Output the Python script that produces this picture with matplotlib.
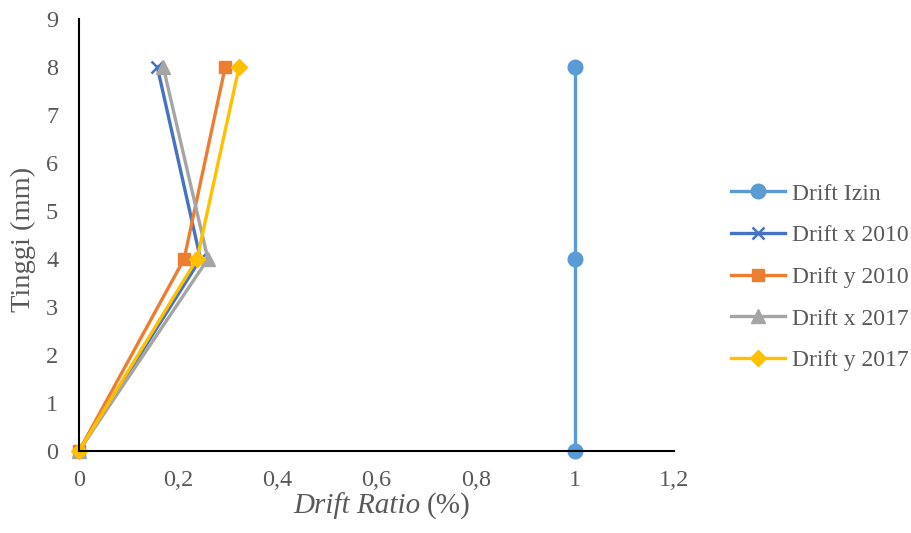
import matplotlib.pyplot as plt
from matplotlib.ticker import FuncFormatter

plt.rcParams['font.family'] = ['Liberation Serif', 'DejaVu Serif']

# storey heights and drift ratios (%)
tinggi = [0, 4, 8]
drift_izin = [1, 1, 1]
drift_x_2010 = [0, 0.245, 0.158]
drift_y_2010 = [0, 0.212, 0.295]
drift_x_2017 = [0, 0.26, 0.17]
drift_y_2017 = [0, 0.238, 0.323]

x_ticks = [0, 0.2, 0.4, 0.6, 0.8, 1.0, 1.2]
y_ticks = list(range(10))

grey = '#595959'

fig = plt.figure(figsize=(9.12, 5.33), dpi=100)
ax = fig.add_axes([0.0866, 0.1538, 0.6524, 0.8106])

lw = 2.4
ax.plot(drift_izin, tinggi, color='#5b9bd5', lw=lw, marker='o', ms=10.5, label='Drift Izin')
ax.plot(drift_x_2010, tinggi, color='#4472c4', lw=lw, marker='x', ms=9, mew=1.8, label='Drift x 2010')
ax.plot(drift_y_2010, tinggi, color='#ed7d31', lw=lw, marker='s', ms=9, label='Drift y 2010')
ax.plot(drift_x_2017, tinggi, color='#a5a5a5', lw=lw, marker='^', ms=10, label='Drift x 2017')
ax.plot(drift_y_2017, tinggi, color='#ffc000', lw=lw, marker='D', ms=8, label='Drift y 2017')
for line in ax.lines:
    line.set_clip_on(False)

ax.set_xlim(0, 1.2)
ax.set_ylim(0, 9)
ax.set_xticks(x_ticks)
ax.set_yticks(y_ticks)
ax.xaxis.set_major_formatter(FuncFormatter(lambda v, p: ('%g' % v).replace('.', ',')))
ax.tick_params(length=0, labelsize=17.5, labelcolor=grey)
ax.tick_params(axis='x', pad=14)
ax.tick_params(axis='y', pad=15)

for s in ['top', 'right']:
    ax.spines[s].set_visible(False)
for s in ['left', 'bottom']:
    ax.spines[s].set_linewidth(1.5)

# axis titles: italic "Drift Ratio" followed by upright "(%)"
t1 = fig.text(0.4616, 0.0375, 'Drift Ratio', fontsize=21, style='italic',
              color=grey, ha='right', va='baseline')
ax.annotate('(%)', xy=(1, 0), xycoords=t1, xytext=(4, 0), textcoords='offset points',
            fontsize=21, color=grey, ha='left', va='bottom')
fig.text(0.026, 0.55, 'Tinggi (mm)', fontsize=20.5, color=grey, rotation=90,
         ha='center', va='center')

fig.legend(loc='center left', bbox_to_anchor=(0.778, 0.48), frameon=False,
           fontsize=17, labelcolor=grey, handlelength=2.3,
           handletextpad=0.3, labelspacing=0.85)

fig.savefig('out.png', dpi=100)
